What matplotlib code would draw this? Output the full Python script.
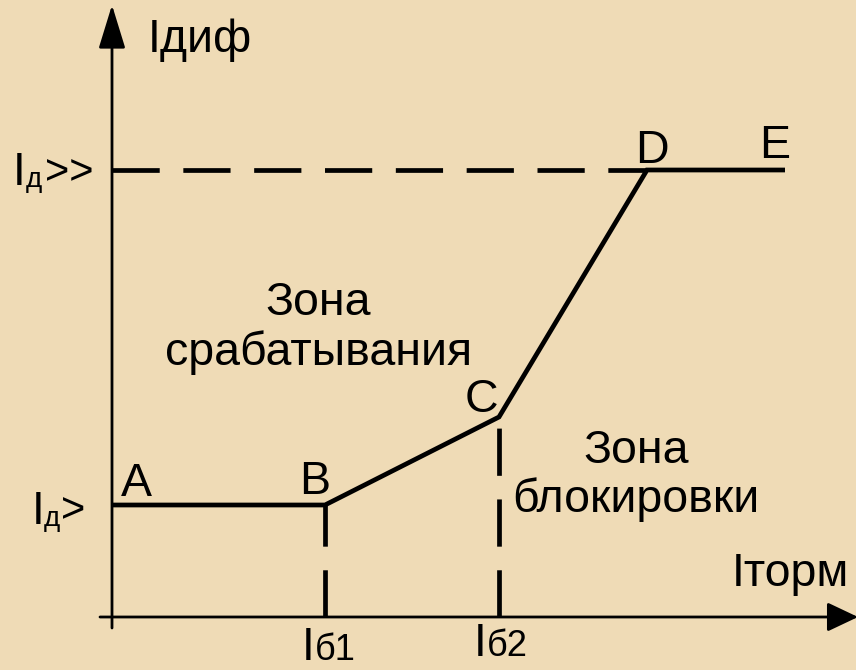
import matplotlib
matplotlib.use("Agg")
import matplotlib.pyplot as plt
from matplotlib.patches import FancyArrowPatch

# Характеристика дифференциальной защиты (точки A-B-C-D-E)
point_names = ['A', 'B', 'C', 'D', 'E']
i_torm = [0.0, 2.13, 3.87, 5.35, 6.73]      # тормозной ток
i_dif = [1.12, 1.12, 2.00, 4.47, 4.47]      # дифференциальный ток
i_d1 = 1.12     # Iд>
i_d2 = 4.47     # Iд>>
i_b1 = 2.13
i_b2 = 3.87

plt.rcParams['font.family'] = ['Liberation Sans', 'DejaVu Sans']
BG = '#EFDBB6'
FS = 33.5

fig = plt.figure(figsize=(8.56, 6.70), dpi=100, facecolor=BG)
ax = fig.add_axes([0, 0, 1, 1])
ax.set_facecolor(BG)
ax.set_xlim(-1.12, 7.44)
ax.set_ylim(-0.53, 6.17)
ax.axis('off')


def px(x, y):
    # пиксели картинки -> координаты данных
    return ((x - 112) / 100, (617 - y) / 100)


# оси со стрелками
ax_y = FancyArrowPatch(px(112, 628), px(112, 5), arrowstyle='-|>,head_length=27,head_width=8.3',
                       mutation_scale=1, lw=2.0, color='black', shrinkA=0, shrinkB=0)
ax_x = FancyArrowPatch(px(100, 617), px(858, 617), arrowstyle='-|>,head_length=19,head_width=9',
                       mutation_scale=1, lw=2.0, color='black', shrinkA=0, shrinkB=0)
ax.add_patch(ax_y)
ax.add_patch(ax_x)

LW = 3.4
DASH = (10.0, 5.0)
# пунктиры
ax.plot([0, i_torm[3]], [i_d2, i_d2], color='black', lw=LW, dashes=DASH, dash_capstyle='butt')
ax.plot([i_b1, i_b1], [0, i_d1], color='black', lw=LW, dashes=DASH, dash_capstyle='butt')
ax.plot([i_b2, i_b2], [0, i_dif[2]], color='black', lw=LW, dashes=DASH, dash_capstyle='butt')

# характеристика срабатывания
ax.plot(i_torm, i_dif, color='black', lw=LW, solid_capstyle='butt', solid_joinstyle='miter')

# подписи точек
label_px = [(121, 496), (299, 494), (465, 412), (635, 163), (759, 158)]
for name, (lx, ly) in zip(point_names, label_px):
    ax.text(*px(lx, ly), name, fontsize=FS, ha='left', va='baseline')

# подписи осей
ax.text(*px(148, 52), 'Iдиф', fontsize=FS, ha='left', va='baseline')
ax.text(*px(732, 586), 'Iторм', fontsize=FS, ha='left', va='baseline')

# Iд>> и Iд>
ax.text(*px(13, 185), 'I', fontsize=33, ha='left', va='baseline')
ax.text(*px(26, 187), 'д', fontsize=20, ha='left', va='baseline')
ax.text(*px(45, 184), '>>', fontsize=30, ha='left', va='baseline')

ax.text(*px(32, 524), 'I', fontsize=33, ha='left', va='baseline')
ax.text(*px(44, 526), 'д', fontsize=20, ha='left', va='baseline')
ax.text(*px(61, 522), '>', fontsize=30, ha='left', va='baseline')

# Iб1 и Iб2
ax.text(*px(302, 660), 'I', fontsize=33, ha='left', va='baseline')
ax.text(*px(315, 660), 'б1', fontsize=26, ha='left', va='baseline')
ax.text(*px(474, 656), 'I', fontsize=33, ha='left', va='baseline')
ax.text(*px(487, 656), 'б2', fontsize=26, ha='left', va='baseline')

# зоны
ax.text(*px(318, 315), 'Зона', fontsize=FS, ha='center', va='baseline')
ax.text(*px(319, 365), 'срабатывания', fontsize=FS, ha='center', va='baseline')
ax.text(*px(636, 463), 'Зона', fontsize=FS, ha='center', va='baseline')
ax.text(*px(636, 512), 'блокировки', fontsize=FS, ha='center', va='baseline')

fig.savefig('out.png', dpi=100, facecolor=BG)
